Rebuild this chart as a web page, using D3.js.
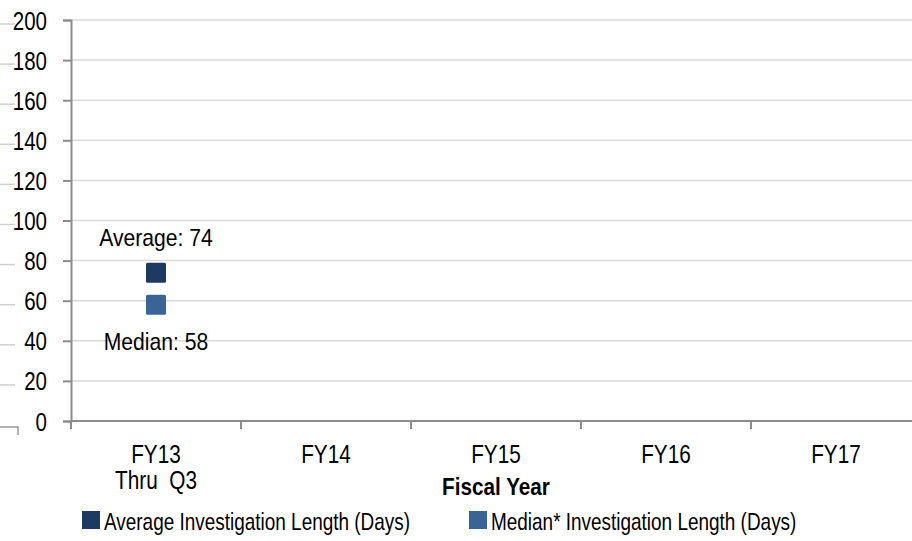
<!DOCTYPE html>
<html>
<head>
<meta charset="utf-8">
<script src="https://cdnjs.cloudflare.com/ajax/libs/d3/7.8.5/d3.min.js"></script>
<style>
  body { margin: 0; background: #fff; }
  svg { display: block; font-family: "Liberation Sans", Arial, sans-serif; }
  .tick_lab { font-size: 25px; fill: #000; font-family: "Liberation Sans", Arial, sans-serif; }
  .grid line { stroke: #d9d9d9; stroke-width: 1.5; }
</style>
</head>
<body>
<script>
// data
var categories = ["FY13", "FY14", "FY15", "FY16", "FY17"];
var sublabels = ["Thru  Q3", "", "", "", ""];
var average = [74, null, null, null, null];
var median = [58, null, null, null, null];
var yTicks = [0, 20, 40, 60, 80, 100, 120, 140, 160, 180, 200];
var seriesNames = ["Average Investigation Length (Days)", "Median* Investigation Length (Days)"];
var seriesColors = ["#1f3a60", "#3a6496"];

// squeeze text horizontally around its anchor (original uses a narrow font)
function narrow(sel, k) {
  sel.attr("transform", function() {
    var x = +d3.select(this).attr("x") || 0;
    var y = +d3.select(this).attr("y") || 0;
    return "translate(" + x + "," + y + ") scale(" + k + ",1) translate(" + (-x) + "," + (-y) + ")";
  });
}

window.onload = function() {
  var w = 912, h = 541;

  var svg = d3.select("body")
              .append("svg")
              .attr("width", w)
              .attr("height", h);

  var xScale = d3.scaleBand()
                 .domain(categories)
                 .range([71, 921]);

  var yScale = d3.scaleLinear()
                 .domain([0, 200])
                 .range([421, 20]);

  // stray stubs left of the labels (as in the original)
  svg.append("g")
     .selectAll("line")
     .data(yTicks.slice(1))
     .enter().append("line")
      .attr("x1", 0)
      .attr("x2", 15)
      .attr("y1", function(d) { return yScale(d) + 4; })
      .attr("y2", function(d) { return yScale(d) + 4; })
      .style("stroke", "#d0d0d0")
      .style("stroke-width", 1.5);

  svg.append("path")
     .attr("d", "M0," + (yScale(0) + 6) + "H18V" + (yScale(0) + 14))
     .style("fill", "none")
     .style("stroke", "#999")
     .style("stroke-width", 1.5);

  // gridlines
  svg.append("g")
     .attr("class", "grid")
     .selectAll("line")
     .data(yTicks.slice(1))
     .enter().append("line")
      .attr("x1", 71)
      .attr("x2", w)
      .attr("y1", function(d) { return yScale(d); })
      .attr("y2", function(d) { return yScale(d); });

  // y axis
  var yAxis = svg.append("g")
     .attr("transform", "translate(71, 0)")
     .call(d3.axisLeft(yScale).tickValues(yTicks).tickSize(8).tickPadding(16));
  yAxis.select(".domain").style("stroke", "#8c8c8c").style("stroke-width", 2);
  yAxis.selectAll(".tick line").style("stroke", "#8c8c8c").style("stroke-width", 2);
  yAxis.selectAll(".tick text")
       .attr("class", "tick_lab")
       .attr("dy", "0.36em")
       .call(narrow, 0.82);

  // x axis
  var xAxis = svg.append("g")
     .attr("transform", "translate(0," + yScale(0) + ")");
  xAxis.append("line")
       .attr("x1", 71).attr("x2", w)
       .style("stroke", "#8c8c8c").style("stroke-width", 2);
  xAxis.selectAll(".xtick")
       .data(categories)
       .enter().append("line")
        .attr("class", "xtick")
        .attr("x1", function(d) { return xScale(d); })
        .attr("x2", function(d) { return xScale(d); })
        .attr("y1", 0).attr("y2", 8)
        .style("stroke", "#8c8c8c").style("stroke-width", 2);

  svg.selectAll(".xlab")
     .data(categories)
     .enter().append("text")
      .attr("class", "tick_lab")
      .attr("x", function(d) { return xScale(d) + xScale.bandwidth() / 2; })
      .attr("y", 463)
      .attr("text-anchor", "middle")
      .text(function(d) { return d; })
      .call(narrow, 0.83);

  svg.selectAll(".xsub")
     .data(sublabels)
     .enter().append("text")
      .attr("class", "tick_lab")
      .attr("x", function(d, i) { return xScale(categories[i]) + xScale.bandwidth() / 2; })
      .attr("y", 489)
      .attr("text-anchor", "middle")
      .style("white-space", "pre")
      .text(function(d) { return d; })
      .call(narrow, 0.83);

  // axis title
  svg.append("text")
     .attr("x", xScale("FY15") + xScale.bandwidth() / 2)
     .attr("y", 495)
     .attr("text-anchor", "middle")
     .style("font-size", "23px")
     .style("font-weight", "bold")
     .text("Fiscal Year")
     .call(narrow, 0.9);

  // markers
  var series = [average, median];
  var size = 20;
  series.forEach(function(vals, s) {
    var pts = [];
    vals.forEach(function(v, i) { if (v != null) pts.push([categories[i], v]); });
    svg.selectAll(".m" + s)
       .data(pts)
       .enter().append("rect")
        .attr("x", function(d) { return xScale(d[0]) + xScale.bandwidth() / 2 - size / 2; })
        .attr("y", function(d) { return yScale(d[1]) - size / 2; })
        .attr("width", size)
        .attr("height", size)
        .attr("rx", 1.5)
        .style("fill", seriesColors[s]);
  });

  // data labels
  svg.append("text")
     .attr("class", "tick_lab")
     .attr("x", xScale("FY13") + xScale.bandwidth() / 2)
     .attr("y", 246)
     .attr("text-anchor", "middle")
     .style("font-size", "24px")
     .text("Average: " + average[0])
     .call(narrow, 0.88);

  svg.append("text")
     .attr("class", "tick_lab")
     .attr("x", xScale("FY13") + xScale.bandwidth() / 2)
     .attr("y", 350)
     .attr("text-anchor", "middle")
     .style("font-size", "24px")
     .text("Median: " + median[0])
     .call(narrow, 0.88);

  // legend
  var legX = [82, 469];
  seriesNames.forEach(function(name, i) {
    svg.append("rect")
       .attr("x", legX[i])
       .attr("y", 511)
       .attr("width", 18)
       .attr("height", 18)
       .style("fill", seriesColors[i]);
    svg.append("text")
       .attr("class", "tick_lab")
       .attr("x", legX[i] + 22)
       .attr("y", 530)
       .style("font-size", "24px")
       .text(name)
       .call(narrow, 0.79);
  });
}
</script>
</body>
</html>
